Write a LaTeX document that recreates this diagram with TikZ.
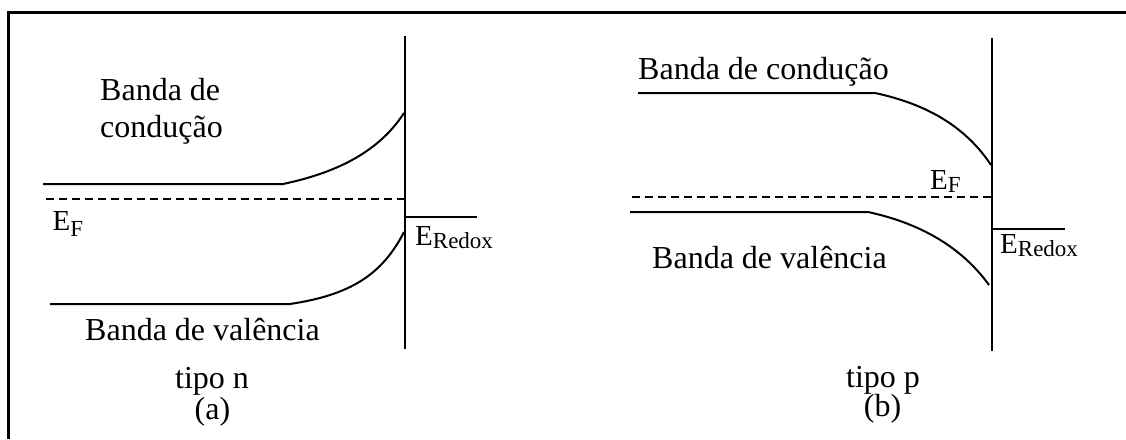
\documentclass[tikz,border=0pt]{standalone}
\usepackage{fontspec}
\setmainfont{Liberation Serif}
\newcommand\lblfont{\fontsize{32}{37}\selectfont}
\newcommand\efont{\fontsize{29}{32}\selectfont}
\newcommand\subfont{\fontsize{23}{24}\selectfont}
\newcommand\myEsub[2]{{\efont E\raisebox{-#2pt}{\subfont #1}}}
\begin{document}
\begin{tikzpicture}[x=1pt,y=-1pt,
  band/.style={line width=2pt},
  fermi/.style={line width=1.8pt,dash pattern=on 8pt off 5pt},
  iface/.style={line width=2pt},
  lbl/.style={inner sep=0pt,font=\lblfont}]
\useasboundingbox (0,0) rectangle (1126,439);
% frame (top and left)
\draw[line width=2.2pt] (8.5,439) -- (8.5,12.5) -- (1126,12.5);

% ---------- (a) tipo n ----------
\coordinate (aTop) at (405,36);
\coordinate (aBot) at (405,349);
\draw[iface] (aTop) -- (aBot);
\coordinate (aCB0) at (43,184);
\coordinate (aCB1) at (283,184);
\coordinate (aCB2) at (404,113);
\draw[band] (aCB0) -- (aCB1) .. controls (340,172) and (380,150) .. (aCB2);
\coordinate (aF0) at (46,199);
\coordinate (aF1) at (404,199);
\draw[fermi] (aF0) -- (aF1);
\coordinate (aVB0) at (50,304);
\coordinate (aVB1) at (290,304);
\coordinate (aVB2) at (404,232);
\draw[band] (aVB0) -- (aVB1) .. controls (350,295) and (382,275) .. (aVB2);
\coordinate (aR0) at (405,217);
\coordinate (aR1) at (477,217);
\draw[band] (aR0) -- (aR1);

\node[lbl,anchor=base west] (aCBl1) at (100,100) {Banda de};
\node[lbl,anchor=base west] (aCBl2) at (100,137) {condução};
\node[inner sep=0pt,anchor=base west] (aEF) at (52.5,230) {\myEsub{F}{6}};
\node[inner sep=0pt,anchor=base west] (aER) at (415,245) {\myEsub{Redox}{3.5}};
\node[lbl,anchor=base west] (aVBl) at (85,340) {Banda de valência};
\node[lbl,anchor=base] (aTipo) at (212,388) {tipo n};
\node[lbl,anchor=base] (aLab) at (212.5,419) {(a)};

% ---------- (b) tipo p ----------
\coordinate (bTop) at (992,38);
\coordinate (bBot) at (992,351);
\draw[iface] (bTop) -- (bBot);
\coordinate (bCB0) at (638,93);
\coordinate (bCB1) at (875,93);
\coordinate (bCB2) at (991,165);
\draw[band] (bCB0) -- (bCB1) .. controls (912,101) and (960,118) .. (bCB2);
\coordinate (bF0) at (632,197);
\coordinate (bF1) at (991,197);
\draw[fermi] (bF0) -- (bF1);
\coordinate (bVB0) at (630,212);
\coordinate (bVB1) at (868,212);
\coordinate (bVB2) at (989,285);
\draw[band] (bVB0) -- (bVB1) .. controls (905,220) and (955,238) .. (bVB2);
\coordinate (bR0) at (992,229);
\coordinate (bR1) at (1065,229);
\draw[band] (bR0) -- (bR1);

\node[lbl,anchor=base west] (bCBl) at (638,79) {Banda de condução};
\node[inner sep=0pt,anchor=base west] (bEF) at (930,189) {\myEsub{F}{3.5}};
\node[inner sep=0pt,anchor=base west] (bER) at (1000,253) {\myEsub{Redox}{3.5}};
\node[lbl,anchor=base west] (bVBl) at (652,268) {Banda de valência};
\node[lbl,anchor=base] (bTipo) at (883,387) {tipo p};
\node[lbl,anchor=base] (bLab) at (882.5,416) {(b)};
\end{tikzpicture}
\end{document}
